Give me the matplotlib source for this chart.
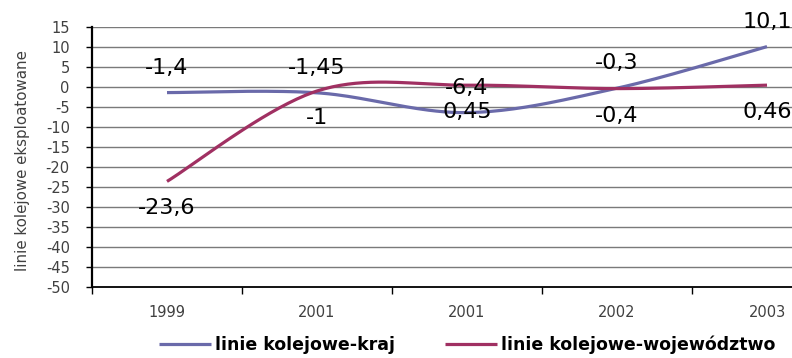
import matplotlib
matplotlib.use('Agg')
import matplotlib.pyplot as plt
import numpy as np

years = ['1999', '2001', '2001', '2002', '2003']
kraj = [-1.4, -1.45, -6.4, -0.3, 10.1]
wojewodztwo = [-23.6, -1.0, 0.45, -0.4, 0.46]
kraj_labels = ['-1,4', '-1,45', '-6,4', '-0,3', '10,1']
woj_labels = ['-23,6', '-1', '0,45', '-0,4', '0,46']
yticks = list(range(-50, 16, 5))


def smooth(xs, ys, steps=40):
    # Catmull-Rom style curve through the points (like a smoothed office chart line)
    xs = np.asarray(xs, float)
    ys = np.asarray(ys, float)
    px = np.concatenate([[xs[0]], xs, [xs[-1]]])
    py = np.concatenate([[ys[0]], ys, [ys[-1]]])
    out_x, out_y = [], []
    for i in range(1, len(px) - 2):
        p0 = np.array([px[i - 1], py[i - 1]])
        p1 = np.array([px[i], py[i]])
        p2 = np.array([px[i + 1], py[i + 1]])
        p3 = np.array([px[i + 2], py[i + 2]])
        c1 = p1 + (p2 - p0) / 6
        c2 = p2 - (p3 - p1) / 6
        t = np.linspace(0, 1, steps)[:, None]
        b = (1 - t) ** 3 * p1 + 3 * (1 - t) ** 2 * t * c1 + 3 * (1 - t) * t ** 2 * c2 + t ** 3 * p2
        out_x.extend(b[:, 0])
        out_y.extend(b[:, 1])
    return out_x, out_y


plt.rcParams['font.family'] = ['DejaVu Sans']

fig = plt.figure(figsize=(7.92, 3.58), dpi=100)
ax = fig.add_axes([92 / 792, 1 - 287 / 358, 750 / 792, 260 / 358])

x = np.arange(len(years))
blue = '#6a6aaa'
red = '#a03062'

ax.set_xlim(-0.5, len(years) - 0.5)
ax.set_ylim(-50, 15)
ax.set_yticks(yticks)
ax.set_yticklabels([str(v) for v in yticks])
for v in yticks[1:]:
    ax.axhline(v, color='#7a7a7a', lw=1, zorder=1)

sx, sy = smooth(x, kraj)
ax.plot(sx, sy, color=blue, lw=2.3, label='linie kolejowe-kraj', zorder=3, solid_capstyle='butt')
sx, sy = smooth(x, wojewodztwo)
ax.plot(sx, sy, color=red, lw=2.3, label='linie kolejowe-województwo', zorder=3, solid_capstyle='butt')

for xi, v, lab in zip(x, kraj, kraj_labels):
    ax.annotate(lab, (xi, v), xytext=(0, 18), textcoords='offset points',
                ha='center', va='center', fontsize=16, color='black', zorder=4)
for xi, v, lab in zip(x, wojewodztwo, woj_labels):
    ax.annotate(lab, (xi, v), xytext=(0, -19.5), textcoords='offset points',
                ha='center', va='center', fontsize=16, color='black', zorder=4)

ax.set_xticks(x)
ax.set_xticklabels(years, fontsize=10.5, color='#404040')
ax.set_xticks(np.arange(-0.5, len(years), 1), minor=True)
ax.tick_params(axis='x', which='major', length=0, pad=13)
ax.tick_params(axis='x', which='minor', length=5, width=1, color='black', direction='out')
ax.tick_params(axis='y', length=4, width=1, color='black', pad=12, labelsize=10.5, labelcolor='#404040')

for s in ['top', 'right']:
    ax.spines[s].set_visible(False)
ax.spines['left'].set_linewidth(1.6)
ax.spines['bottom'].set_linewidth(1.3)

ax.set_ylabel('linie kolejowe eksploatowane', fontsize=10.8, color='#404040')
ax.yaxis.set_label_coords((30 - 92) / 750, (287 - 161) / 260)

leg = fig.legend(loc='center', bbox_to_anchor=(0.59, 1 - 345 / 358), ncol=2, frameon=False,
                 prop={'size': 12.5, 'weight': 'bold'}, handlelength=3.0, handletextpad=0.2,
                 columnspacing=2.9)

fig.savefig('out.png', dpi=100)
